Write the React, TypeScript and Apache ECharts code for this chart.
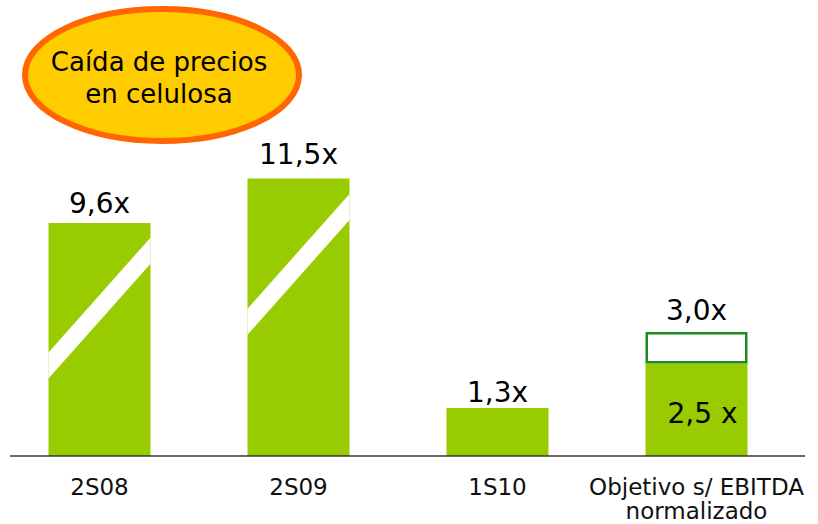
import React, { useEffect, useRef } from "react";
import * as echarts from "echarts";

// ---- data ----
const categories = ["2S08", "2S09", "1S10", "Objetivo s/ EBITDA\nnormalizado"];
const actualValues = [9.6, 11.5, 1.3, 2.5];
// drawn heights: the first two bars use a broken (compressed) scale
const plotHeights = [6.3, 7.5, 1.3, 2.5];
const valueLabels = ["9,6x", "11,5x", "1,3x", "2,5 x"];
const targetValue = 3.0;
const targetPlotTop = 3.35;
const targetLabel = "3,0x";
// height (in plot units) where the white "break" stripe crosses each broken bar
const breakCenters: [number, number][] = [
  [0, 4.0],
  [1, 5.18],
];
const calloutText = ["Caída de precios", "en celulosa"];

const FONT = "'DejaVu Sans', Verdana, sans-serif";
const GREEN = "#99CC00";
const BAR_W = 102;

export default function App() {
  const ref = useRef<HTMLDivElement>(null);

  useEffect(() => {
    document.body.style.margin = "0";
    if (!ref.current) return;
    const chart = echarts.init(ref.current, undefined, { renderer: "svg" });

    const labelDistances = [5, 10, 1];
    const mainData = plotHeights.map((h, i) => {
      if (i === 3) {
        return {
          value: h,
          label: {
            show: true,
            position: "inside",
            offset: [6, 4],
            formatter: valueLabels[i],
          },
        };
      }
      return {
        value: h,
        label: {
          show: true,
          position: "top",
          distance: labelDistances[i],
          formatter: valueLabels[i],
        },
      };
    });

    const targetData = categories.map((_, i) =>
      i === 3 ? targetPlotTop - plotHeights[3] : "-"
    );

    chart.setOption({
      animation: false,
      backgroundColor: "#ffffff",
      grid: {
        left: 0,
        right: 22,
        top: 86,
        bottom: 68,
        outerBoundsMode: "none",
        containLabel: false,
      },
      xAxis: {
        type: "category",
        data: categories,
        axisLine: { show: false },
        axisTick: { show: false },
        axisLabel: {
          interval: 0,
          margin: 19,
          fontFamily: FONT,
          fontSize: 23,
          lineHeight: 24,
          color: "#111111",
        },
        splitLine: { show: false },
      },
      yAxis: {
        type: "value",
        min: 0,
        max: 10,
        show: false,
        splitLine: { show: false },
      },
      series: [
        {
          name: "ratio",
          type: "bar",
          stack: "a",
          barWidth: BAR_W,
          data: mainData,
          itemStyle: { color: GREEN },
          label: {
            fontFamily: FONT,
            fontSize: 28,
            color: "#000000",
          },
        },
        {
          name: "objetivo",
          type: "bar",
          stack: "a",
          barWidth: BAR_W,
          data: targetData,
          itemStyle: {
            color: "#ffffff",
            borderColor: "#1E8B1E",
            borderWidth: 2.5,
          },
          label: {
            show: true,
            position: "top",
            distance: 8,
            formatter: targetLabel,
            fontFamily: FONT,
            fontSize: 28,
            color: "#000000",
          },
          z: 3,
        },
        {
          name: "break",
          type: "custom",
          data: breakCenters,
          z: 5,
          renderItem: (params: any, api: any) => {
            const p = api.coord([api.value(0), api.value(1)]);
            const half = BAR_W / 2;
            const rise = BAR_W * 1.125;
            const t = 26;
            const x0 = p[0] - half;
            const x1 = p[0] + half;
            return {
              type: "polygon",
              shape: {
                points: [
                  [x0, p[1] + rise / 2 - t / 2],
                  [x1, p[1] - rise / 2 - t / 2],
                  [x1, p[1] - rise / 2 + t / 2],
                  [x0, p[1] + rise / 2 + t / 2],
                ],
              },
              style: { fill: "#ffffff" },
            };
          },
        },
      ],
      graphic: [
        {
          type: "line",
          shape: { x1: 10, y1: 456, x2: 805, y2: 456 },
          style: { stroke: "#333333", lineWidth: 1.5 },
          z: 10,
        },
        {
          type: "ellipse",
          shape: { cx: 162, cy: 75, rx: 137, ry: 66 },
          style: { fill: "#FFCC00", stroke: "#FF6600", lineWidth: 6 },
          z: 20,
        },
        {
          type: "text",
          x: 159,
          y: 46,
          z: 21,
          style: {
            text: calloutText.join("\n"),
            fontFamily: FONT,
            fontSize: 26,
            lineHeight: 32,
            fill: "#000000",
            align: "center",
            verticalAlign: "top",
          },
        },
      ],
    });

    // keep actual values referenced (shown in labels)
    void actualValues;
    void targetValue;

    return () => chart.dispose();
  }, []);

  return <div ref={ref} style={{ width: 818, height: 524 }} />;
}
